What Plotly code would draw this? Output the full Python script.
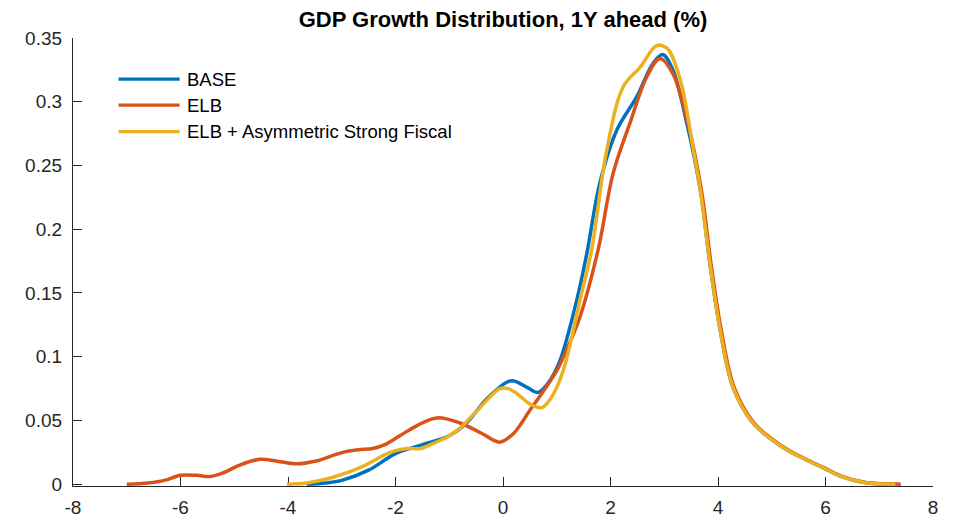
import plotly.graph_objects as go

# GDP growth (%) grid points and density values for each scenario
base_x = [-3.65, -3.3, -3.0, -2.5, -2.0, -1.5, -1.0, -0.7, -0.3, 0.07, 0.2, 0.45, 0.65, 0.85,
          1.06, 1.37, 1.56, 1.8, 2.12, 2.49, 2.79, 2.97, 3.15, 3.42, 3.67, 3.85, 4.04, 4.28,
          4.65, 4.97, 5.28, 5.6, 5.95, 6.3, 6.7, 7.0, 7.3]
base_y = [0.0, 0.001, 0.003, 0.011, 0.024, 0.031, 0.038, 0.047, 0.067, 0.080, 0.081, 0.076,
          0.072, 0.080, 0.097, 0.144, 0.181, 0.236, 0.278, 0.304, 0.330, 0.337, 0.326, 0.283,
          0.231, 0.173, 0.121, 0.076, 0.048, 0.036, 0.027, 0.020, 0.013, 0.006, 0.0015,
          0.0003, 0.0]

elb_x = [-7.0, -6.6, -6.3, -6.0, -5.7, -5.45, -5.2, -4.9, -4.52, -4.2, -3.83, -3.5, -3.2,
         -2.98, -2.7, -2.42, -2.2, -1.92, -1.6, -1.23, -0.8, -0.4, -0.06, 0.2, 0.5, 0.75,
         1.0, 1.2, 1.43, 1.77, 2.05, 2.36, 2.68, 2.92, 3.16, 3.44, 3.69, 3.87, 4.06, 4.3,
         4.67, 4.99, 5.3, 5.62, 5.97, 6.32, 6.72, 7.0, 7.4]
elb_y = [0.0, 0.001, 0.003, 0.007, 0.007, 0.006, 0.009, 0.015, 0.0196, 0.018, 0.016, 0.018,
         0.022, 0.025, 0.027, 0.028, 0.031, 0.038, 0.046, 0.052, 0.048, 0.040, 0.033, 0.040,
         0.058, 0.073, 0.089, 0.107, 0.131, 0.184, 0.244, 0.283, 0.320, 0.334, 0.322, 0.283,
         0.231, 0.173, 0.121, 0.076, 0.048, 0.036, 0.027, 0.020, 0.013, 0.006, 0.0015,
         0.0005, 0.0]

fiscal_x = [-4.02, -3.65, -3.16, -2.66, -2.1, -1.8, -1.54, -1.3, -1.04, -0.8, -0.43, -0.06,
            0.1, 0.26, 0.5, 0.72, 0.9, 1.12, 1.43, 1.65, 1.93, 2.24, 2.55, 2.86, 3.05, 3.3,
            3.53, 3.67, 3.85, 4.04, 4.28, 4.65, 4.97, 5.28, 5.6, 5.95, 6.3, 6.7, 7.0, 7.3]
fiscal_y = [0.0, 0.001, 0.0055, 0.013, 0.025, 0.028, 0.028, 0.032, 0.037, 0.044, 0.060,
            0.075, 0.075, 0.071, 0.063, 0.060, 0.068, 0.089, 0.144, 0.184, 0.262, 0.312,
            0.327, 0.344, 0.342, 0.317, 0.265, 0.231, 0.173, 0.121, 0.076, 0.048, 0.036,
            0.027, 0.020, 0.013, 0.006, 0.0015, 0.0003, 0.0]

series_names = ["BASE", "ELB", "ELB + Asymmetric Strong Fiscal"]
series_colors = ["#0072BD", "#D95319", "#EDB120"]

x_ticks = [-8, -6, -4, -2, 0, 2, 4, 6, 8]
x_tick_text = ["-8", "-6", "-4", "-2", "0", "2", "4", "6", "8"]
y_ticks = [0, 0.05, 0.1, 0.15, 0.2, 0.25, 0.3, 0.35]
y_tick_text = ["0", "0.05", "0.1", "0.15", "0.2", "0.25", "0.3", "0.35"]

title_text = "GDP Growth Distribution, 1Y ahead (%)"

FONT = "Liberation Sans, Arial, sans-serif"
AXIS_COLOR = "#262626"

fig = go.Figure()
for xs, ys, name, color in zip([base_x, elb_x, fiscal_x], [base_y, elb_y, fiscal_y],
                               series_names, series_colors):
    fig.add_trace(go.Scatter(
        x=xs, y=ys, name=name, mode="lines",
        line=dict(color=color, width=3.5, shape="spline", smoothing=1.0),
        showlegend=False,
    ))

# Legend drawn as long line samples with labels, top-left inside the axes
leg_x0, leg_x1, leg_text_x = 0.053, 0.124, 0.130
leg_rows = [0.908, 0.850, 0.791]
for name, color, yy in zip(series_names, series_colors, leg_rows):
    fig.add_shape(type="line", xref="paper", yref="paper",
                  x0=leg_x0, x1=leg_x1, y0=yy, y1=yy,
                  line=dict(color=color, width=3.2))
    fig.add_annotation(xref="paper", yref="paper", x=leg_text_x, y=yy,
                       text=name, showarrow=False, xanchor="left", yanchor="middle",
                       font=dict(family=FONT, size=18.5, color="#000000"))

fig.update_layout(
    width=956, height=519,
    margin=dict(l=73, r=23, t=38, b=33),
    paper_bgcolor="white", plot_bgcolor="white",
    title=dict(text="<b>" + title_text + "</b>", x=0.5, xref="paper",
               y=1 - 19 / 519, yref="container", yanchor="middle", xanchor="center",
               font=dict(family=FONT, size=22, color="#000000")),
    font=dict(family=FONT, size=19, color=AXIS_COLOR),
)
fig.update_xaxes(
    range=[-8, 8], tickvals=x_ticks, ticktext=x_tick_text, automargin=False,
    showgrid=False, zeroline=False, showline=True, linecolor=AXIS_COLOR, linewidth=1.3,
    ticks="inside", ticklen=9, tickwidth=1.3, tickcolor=AXIS_COLOR,
    ticklabelstandoff=4, layer="below traces",
    tickfont=dict(family=FONT, size=19, color=AXIS_COLOR),
)
fig.update_yaxes(
    range=[-0.0014, 0.35], tickvals=y_ticks, ticktext=y_tick_text, automargin=False,
    showgrid=False, zeroline=False, showline=True, linecolor=AXIS_COLOR, linewidth=1.3,
    ticks="inside", ticklen=9, tickwidth=1.3, tickcolor=AXIS_COLOR,
    ticklabelstandoff=6, layer="below traces",
    tickfont=dict(family=FONT, size=19, color=AXIS_COLOR),
)

fig.write_html("out.html")
